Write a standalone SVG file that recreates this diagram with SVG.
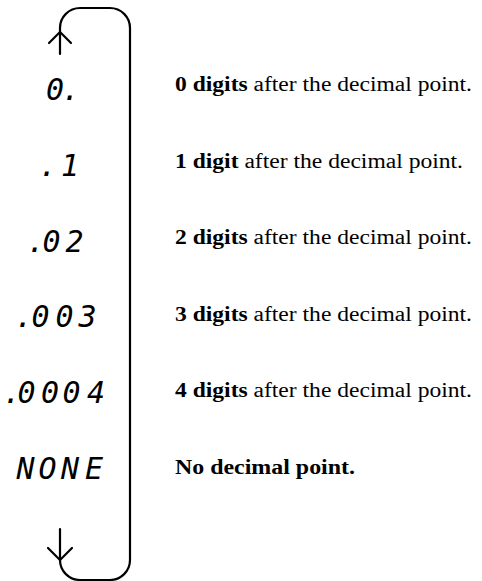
<svg xmlns="http://www.w3.org/2000/svg" width="482" height="581" viewBox="0 0 482 581">
<defs>
<style>
.seg{font-family:"DejaVu Sans Mono","Liberation Mono",monospace;font-style:oblique;font-size:30px;fill:#000;text-anchor:middle}
.desc{font-family:"Liberation Serif","Times New Roman",serif;font-size:20px;fill:#000}
.b{font-weight:bold}
.line{fill:none;stroke:#000;stroke-width:2.2;stroke-linecap:round;stroke-linejoin:round}
</style>
</defs>
<rect width="482" height="581" fill="#fff"/>
<g id="connectors">
<path class="line" d="M60,54 V28 A20,20 0 0 1 80,8 H110 A20,20 0 0 1 130,28 V560 A20,20 0 0 1 110,580 H80 A20,20 0 0 1 60,560 V529"/>
<path class="line" d="M49,43 L60,32 L71,43"/>
<path class="line" d="M48,548 L60,560 L72,548"/>
</g>
<g id="row-0">
<text class="seg" x="55 71" y="100">0.</text>
<text class="desc" x="175" y="91" textLength="297" lengthAdjust="spacingAndGlyphs"><tspan class="b">0 digits</tspan> after the decimal point.</text>
</g>
<g id="row-1">
<text class="seg" x="48 70" y="176">.1</text>
<text class="desc" x="175" y="168" textLength="288" lengthAdjust="spacingAndGlyphs"><tspan class="b">1 digit</tspan> after the decimal point.</text>
</g>
<g id="row-2">
<text class="seg" x="36 51.5 74.5" y="252">.02</text>
<text class="desc" x="175" y="244" textLength="297" lengthAdjust="spacingAndGlyphs"><tspan class="b">2 digits</tspan> after the decimal point.</text>
</g>
<g id="row-3">
<text class="seg" x="24 40.5 64.5 87.5" y="327">.003</text>
<text class="desc" x="175" y="321" textLength="297" lengthAdjust="spacingAndGlyphs"><tspan class="b">3 digits</tspan> after the decimal point.</text>
</g>
<g id="row-4">
<text class="seg" x="12 26.5 50 71.5 96" y="403">.0004</text>
<text class="desc" x="175" y="397" textLength="297" lengthAdjust="spacingAndGlyphs"><tspan class="b">4 digits</tspan> after the decimal point.</text>
</g>
<g id="row-5">
<text class="seg" x="25.5 47.5 70 94" y="479">NONE</text>
<text class="desc b" x="175" y="474" textLength="180" lengthAdjust="spacingAndGlyphs">No decimal point.</text>
</g>
</svg>
